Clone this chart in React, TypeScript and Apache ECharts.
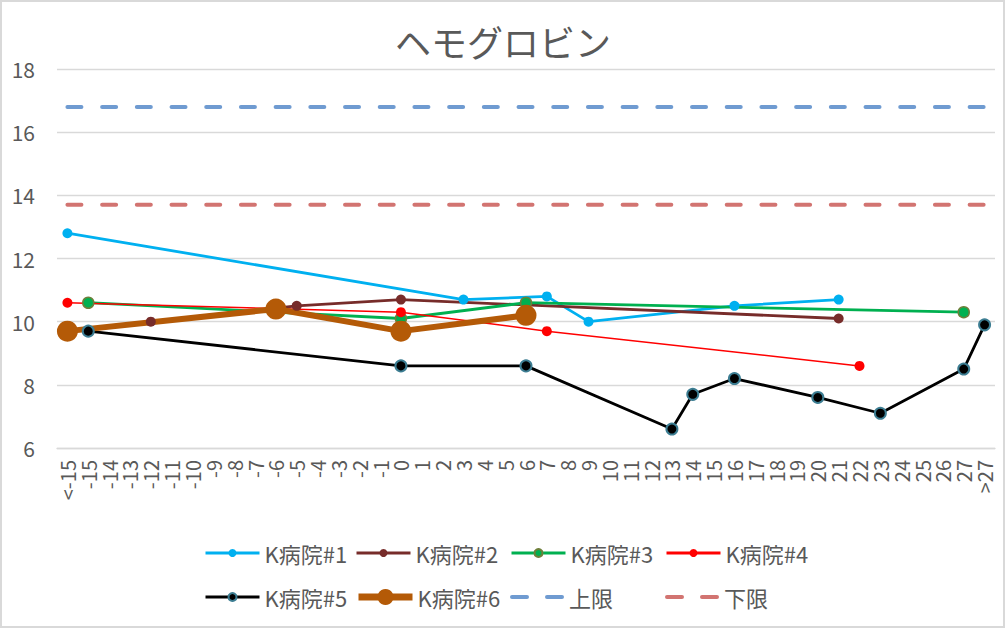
import React, { useEffect, useRef } from "react";
import * as echarts from "echarts";

const CATEGORIES: string[] = [
  "<-15", "-15", "-14", "-13", "-12", "-11", "-10", "-9", "-8", "-7", "-6", "-5", "-4", "-3", "-2", "-1",
  "0", "1", "2", "3", "4", "5", "6", "7", "8", "9", "10", "11", "12", "13", "14", "15", "16", "17", "18",
  "19", "20", "21", "22", "23", "24", "25", "26", "27", ">27",
];

const K1: [string, number][] = [["<-15", 12.8], ["3", 10.7], ["7", 10.8], ["9", 10.0], ["16", 10.5], ["21", 10.7]];
const K2: [string, number][] = [["-12", 10.0], ["-5", 10.5], ["0", 10.7], ["21", 10.1]];
const K3: [string, number][] = [["-15", 10.6], ["0", 10.1], ["6", 10.6], ["27", 10.3]];
const K4: [string, number][] = [["<-15", 10.6], ["0", 10.3], ["7", 9.7], ["22", 8.6]];
const K5: [string, number][] = [
  ["-15", 9.7], ["0", 8.6], ["6", 8.6], ["13", 6.6], ["14", 7.7], ["16", 8.2], ["20", 7.6], ["23", 7.1], ["27", 8.5], [">27", 9.9],
];
const K6: [string, number][] = [["<-15", 9.7], ["-6", 10.4], ["0", 9.7], ["6", 10.2]];
const UPPER = 16.8;
const LOWER = 13.7;

const Y_MIN = 6;
const Y_MAX = 18;
const Y_STEP = 2;

const FONT = "'Noto Sans CJK JP', 'Noto Sans', sans-serif";
const TEXT = "#595959";
const GRID = "#D9D9D9";

const DASH_ICON =
  "path://M2,0H17A2,2 0 0 1 17,4H2A2,2 0 0 1 2,0Z M37,0H52A2,2 0 0 1 52,4H37A2,2 0 0 1 37,0Z";

export default function App() {
  const ref = useRef<HTMLDivElement>(null);

  useEffect(() => {
    document.body.style.margin = "0";
    if (!ref.current) return;
    const chart = echarts.init(ref.current, undefined, { renderer: "svg" });

    const lineSeries = (name: string, data: [string, number][], color: string, width: number, size: number, extra: any = {}) => ({
      name,
      type: "line",
      data,
      connectNulls: true,
      symbol: "circle",
      symbolSize: size,
      lineStyle: { color, width },
      itemStyle: { color, ...(extra.itemStyle || {}) },
      emphasis: { disabled: true },
    });

    const legendItem = (name: string, left: number, top: number, opts: any = {}) => ({
      orient: "horizontal",
      itemWidth: 54,
      itemHeight: 10,
      selectedMode: false,
      padding: 0,
      left,
      top,
      lineStyle: { width: 3 },
      textStyle: { fontFamily: FONT, fontSize: 22, color: TEXT },
      ...opts,
      data: [opts.icon ? { name, icon: opts.icon } : name],
    });

    chart.setOption({
      animation: false,
      backgroundColor: "#ffffff",
      title: {
        text: "ヘモグロビン",
        left: "center",
        top: 23,
        padding: 0,
        textStyle: { fontFamily: FONT, fontSize: 36, fontWeight: "normal", color: TEXT },
      },
      grid: { left: 57, right: 11, top: 69, bottom: 181, containLabel: false },
      xAxis: {
        type: "category",
        data: CATEGORIES,
        boundaryGap: true,
        axisLine: { show: true, lineStyle: { color: GRID, width: 1.3 } },
        axisTick: { show: false },
        axisLabel: { rotate: 90, interval: 0, fontFamily: FONT, fontSize: 20, color: TEXT, margin: 12 },
      },
      yAxis: {
        type: "value",
        min: Y_MIN,
        max: Y_MAX,
        interval: Y_STEP,
        axisLine: { show: false },
        axisTick: { show: false },
        axisLabel: { fontFamily: FONT, fontSize: 21, color: TEXT, margin: 22 },
        splitLine: { lineStyle: { color: GRID, width: 1.3 } },
      },
      legend: [
        legendItem("K病院#1", 204, 542),
        legendItem("K病院#2", 355, 542),
        legendItem("K病院#3", 510, 542),
        legendItem("K病院#4", 665, 542),
        legendItem("K病院#5", 204, 586),
        legendItem("K病院#6", 355, 586, { itemHeight: 20, lineStyle: { width: 7 } }),
        legendItem("上限", 510, 586, { icon: DASH_ICON }),
        legendItem("下限", 665, 586, { icon: DASH_ICON }),
      ],
      graphic: [
        {
          type: "rect",
          shape: { x: 1, y: 1, width: 1003, height: 626 },
          style: { fill: "none", stroke: GRID, lineWidth: 2 },
          silent: true,
          z: 100,
        },
      ],
      series: [
        lineSeries("K病院#1", K1, "#00B0F0", 2.8, 10),
        lineSeries("K病院#2", K2, "#772C2A", 2.8, 10),
        lineSeries("K病院#3", K3, "#00B050", 2.8, 11, { itemStyle: { borderColor: "#6E7F3A", borderWidth: 1.5 } }),
        lineSeries("K病院#4", K4, "#FF0000", 1.5, 10),
        lineSeries("K病院#5", K5, "#000000", 2.8, 11, { itemStyle: { borderColor: "#3C7D92", borderWidth: 2 } }),
        lineSeries("K病院#6", K6, "#B45A07", 6, 21),
        {
          name: "上限",
          type: "line",
          data: CATEGORIES.map((c) => [c, UPPER]),
          symbol: "none",
          lineStyle: { color: "#6F9BD1", width: 4, type: [14, 20.7], cap: "round" },
          itemStyle: { color: "#6F9BD1" },
          emphasis: { disabled: true },
        },
        {
          name: "下限",
          type: "line",
          data: CATEGORIES.map((c) => [c, LOWER]),
          symbol: "none",
          lineStyle: { color: "#D27471", width: 4, type: [14, 20.7], cap: "round" },
          itemStyle: { color: "#D27471" },
          emphasis: { disabled: true },
        },
      ],
    });

    return () => chart.dispose();
  }, []);

  return (
    <div
      ref={ref}
      style={{ position: "absolute", left: 0, top: 0, width: 1006, height: 629, background: "#fff" }}
    />
  );
}
